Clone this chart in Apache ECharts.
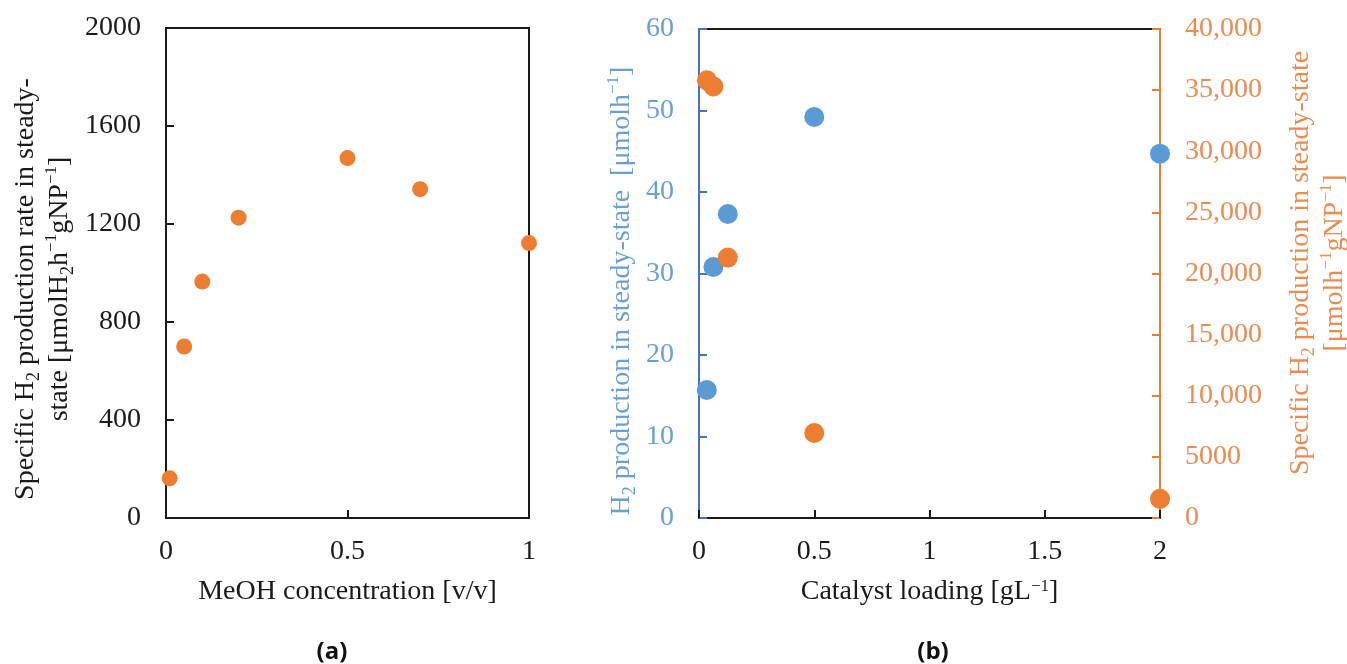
<!DOCTYPE html>
<html>
<head>
<meta charset="utf-8">
<title>H2 production</title>
<script src="https://cdn.jsdelivr.net/npm/echarts@6/dist/echarts.min.js"></script>
<style>
    html, body { margin: 0; padding: 0; background: #fff; }
    #chart { width: 1347px; height: 664px; }
</style>
</head>
<body>
<div id="chart"></div>
<script>
// (a) MeOH concentration vs specific rate
var meohConc = [0.01, 0.05, 0.1, 0.2, 0.5, 0.7, 1];
var specRateA = [162, 700, 965, 1226, 1469, 1342, 1122];

// (b) catalyst loading vs H2 production / specific production
var catLoading = [0.034, 0.0625, 0.125, 0.5, 2];
var h2Prod = [15.7, 30.8, 37.3, 49.2, 44.7];
var specProdB = [35800, 35300, 21300, 6950, 1570];

var xTicksA = [0, 0.5, 1];
var xTicksB = [0, 0.5, 1, 1.5, 2];

(function () {
    var serif = 'Liberation Serif';
    var black = '#1a1a1a';
    var blue = '#5B9BD5', blueLine = '#4472C4', blueText = '#6a9fd6';
    var orange = '#ED7D31', orangeText = '#ec8b50';

    function zip(xs, ys) {
        return xs.map(function (x, i) { return [x, ys[i]]; });
    }

    // sub/superscript styles for H2, h-1 etc.
    function rich(color) {
        return {
            sub: { fontFamily: serif, fontSize: 18, lineHeight: 18, verticalAlign: 'bottom', color: color, fill: color },
            sup: { fontFamily: serif, fontSize: 17, lineHeight: 17, verticalAlign: 'top', color: color, fill: color }
        };
    }

    function vTitle(x, y, text, color) {
        return {
            type: 'text', x: x, y: y, rotation: Math.PI / 2,
            style: {
                text: text, fill: color, fontFamily: serif, fontSize: 28, lineHeight: 34,
                align: 'center', verticalAlign: 'middle', rich: rich(color)
            }
        };
    }

    function xAxis(idx, ticks, name) {
        return {
            type: 'value', gridIndex: idx, min: 0, max: ticks[ticks.length - 1],
            interval: 0.5,
            name: name, nameLocation: 'middle', nameGap: 60,
            nameTextStyle: { fontFamily: serif, fontSize: 28, color: black, rich: rich(black) },
            axisLine: { lineStyle: { color: black, width: 2 } },
            axisTick: { inside: true, length: 8, lineStyle: { color: black, width: 2 } },
            axisLabel: {
                fontFamily: serif, fontSize: 28, color: black, margin: 20,
                formatter: function (v) { return String(v); }
            },
            splitLine: { show: false }
        };
    }

    function yAxis(idx, max, interval, pos, lineColor, textColor, fmt) {
        return {
            type: 'value', gridIndex: idx, min: 0, max: max, interval: interval, position: pos,
            axisLine: { show: true, lineStyle: { color: lineColor, width: 2 } },
            axisTick: { show: true, inside: true, length: 8, lineStyle: { color: lineColor, width: 2 } },
            axisLabel: { fontFamily: serif, fontSize: 28, color: textColor, margin: 25, formatter: fmt },
            splitLine: { show: false }
        };
    }

    var myChart = echarts.init(document.getElementById('chart'));
    var option = {
        animation: false,
        backgroundColor: '#fff',
        grid: [
            { left: 166, top: 28, width: 363, height: 490, show: true, borderColor: black, borderWidth: 2 },
            { left: 699, top: 29, width: 461, height: 489, show: true, borderColor: black, borderWidth: 2 }
        ],
        xAxis: [
            xAxis(0, xTicksA, 'MeOH concentration [v/v]'),
            xAxis(1, xTicksB, 'Catalyst loading [gL{sup|−1}]')
        ],
        yAxis: [
            yAxis(0, 2000, 400, 'left', black, black, function (v) { return String(v); }),
            yAxis(1, 60, 10, 'left', blueLine, blueText, function (v) { return String(v); }),
            yAxis(1, 40000, 5000, 'right', orange, orangeText, function (v) {
                return v >= 10000 ? v.toLocaleString('en-US') : String(v);
            })
        ],
        series: [
            {
                type: 'scatter', xAxisIndex: 0, yAxisIndex: 0, symbolSize: 16, clip: false,
                itemStyle: { color: orange, opacity: 1 },
                data: zip(meohConc, specRateA)
            },
            {
                type: 'scatter', xAxisIndex: 1, yAxisIndex: 1, symbolSize: 20, clip: false,
                itemStyle: { color: blue, opacity: 1 },
                data: zip(catLoading, h2Prod)
            },
            {
                type: 'scatter', xAxisIndex: 1, yAxisIndex: 2, symbolSize: 20, clip: false,
                itemStyle: { color: orange, opacity: 1 },
                data: zip(catLoading, specProdB)
            }
        ],
        graphic: [
            vTitle(43, 289, 'Specific H{sub|2} production rate in steady-\nstate [μmolH{sub|2}h{sup|−1}gNP{sup|−1}]', black),
            vTitle(622, 291, 'H{sub|2} production in steady-state  [μmolh{sup|−1}]', blueText),
            vTitle(1318, 263, 'Specific H{sub|2} production in steady-state\n[μmolh{sup|−1}gNP{sup|−1}]', orangeText),
            {
                type: 'text', x: 332, y: 652,
                style: { text: '(a)', fill: '#111', fontFamily: 'Open Sans', fontWeight: 'bold', fontSize: 24, align: 'center', verticalAlign: 'middle' }
            },
            {
                type: 'text', x: 933, y: 652,
                style: { text: '(b)', fill: '#111', fontFamily: 'Open Sans', fontWeight: 'bold', fontSize: 24, align: 'center', verticalAlign: 'middle' }
            }
        ]
    };
    myChart.setOption(option);
    window.addEventListener('resize', function () {
        myChart.resize();
    });
})();
</script>
</body>
</html>
